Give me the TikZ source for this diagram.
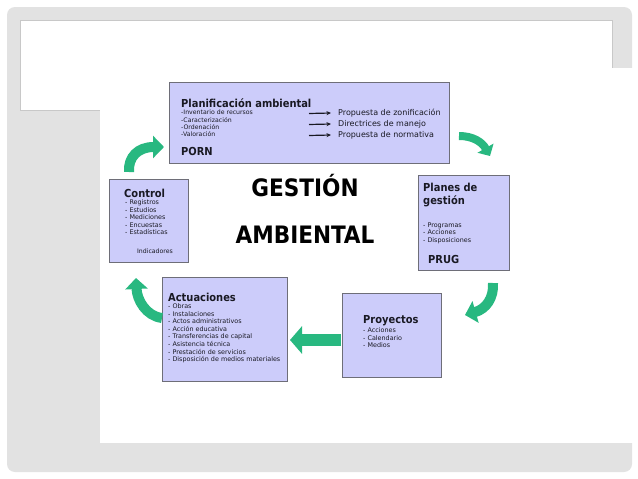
\documentclass[tikz,border=0pt]{standalone}
\usepackage{fontspec}
\setmainfont{DejaVu Sans}
\newfontfamily\hdfont{DejaVu Sans Condensed}
\usetikzlibrary{arrows.meta}
\definecolor{framegray}{RGB}{226,226,226}
\definecolor{lineg}{RGB}{200,200,200}
\definecolor{boxfill}{RGB}{204,204,250}
\definecolor{boxline}{RGB}{110,110,120}
\definecolor{arrowgreen}{RGB}{40,184,128}
\definecolor{txt}{RGB}{25,25,35}
\tikzset{
  box/.style={draw=boxline, fill=boxfill, line width=0.9pt},
  ttl/.style={anchor=west, inner sep=0, text=txt, font=\hdfont\bfseries\fontsize{11}{13}\selectfont},
  lst/.style={anchor=north west, inner sep=0, align=left, text=txt, font=\fontsize{6.4}{7.6}\selectfont},
  prop/.style={anchor=west, inner sep=0, text=txt, font=\fontsize{8}{9}\selectfont},
  big/.style={inner sep=0, text=black, font=\hdfont\bfseries\fontsize{24}{26}\selectfont},
  smallarr/.style={-{Stealth[length=4.5pt,width=4pt]}, line width=1.2pt, txt},
  garrow/.style={arrowgreen, line width=10pt, -{Triangle[length=11pt,width=22pt]}},
}
\begin{document}
\begin{tikzpicture}[x=1pt,y=-1pt]
\useasboundingbox (0,0) rectangle (638,479);
\fill[white] (0,0) rectangle (638,479);
% slide frame
\fill[framegray, rounded corners=8pt] (7,7) rectangle (632,472);
\draw[lineg, fill=white, line width=1pt] (20,20) rectangle (612,110);
\fill[white] (100,68) rectangle (638,443);

% boxes
\draw[box] (169,82) rectangle (449,163);
\draw[box] (109,179) rectangle (188,262);
\draw[box] (418,175) rectangle (509,270);
\draw[box] (162,277) rectangle (287,381);
\draw[box] (342,293) rectangle (441,377);

% Planificacion
\node[ttl] (plant) at (181,103) {Planificación ambiental};
\node[lst, font=\fontsize{6.2}{7.1}\selectfont] (planl) at (181,110) {-Inventario de recursos\\-Caracterización\\-Ordenación\\-Valoración};
\node[ttl] (porn) at (181,151) {PORN};
\node[prop] (p1) at (338,113) {Propuesta de zonificación};
\node[prop] (p2) at (338,124) {Directrices de manejo};
\node[prop] (p3) at (338,135) {Propuesta de normativa};
\coordinate (a1) at (309,113.5);
\coordinate (a2) at (309,124.5);
\coordinate (a3) at (309,135.5);
\draw[smallarr] (a1) -- ([xshift=-7pt]p1.west);
\draw[smallarr] (a2) -- ([xshift=-7pt]p2.west);
\draw[smallarr] (a3) -- ([xshift=-7pt]p3.west);

% Control
\node[ttl] (ctl) at (124,193) {Control};
\node[lst] (ctll) at (125,199.5) {- Registros\\- Estudios\\- Mediciones\\- Encuestas\\- Estadísticas};
\node[inner sep=0, text=txt, font=\fontsize{6.2}{7}\selectfont] (ind) at (155,251) {Indicadores};

% Planes de gestion
\node[ttl, anchor=north west, align=left, font=\hdfont\bfseries\fontsize{11}{13}\selectfont] (plg) at (423,183) {Planes de\\gestión};
\node[lst] (plgl) at (423,222.5) {- Programas\\- Acciones\\- Disposiciones};
\node[ttl] (prug) at (428,259) {PRUG};

% Actuaciones
\node[ttl] (act) at (168,297) {Actuaciones};
\node[lst] (actl) at (168,303.5) {- Obras\\- Instalaciones\\- Actos administrativos\\- Acción educativa\\- Transferencias de capital\\- Asistencia técnica\\- Prestación de servicios\\- Disposición de medios materiales};

% Proyectos
\node[ttl] (pro) at (363,321) {Proyectos};
\node[lst] (prol) at (363,327.5) {- Acciones\\- Calendario\\- Medios};

% center title
\node[big] (g1) at (305,186) {GESTIÓN};
\node[big] (g2) at (305,235) {AMBIENTAL};

% green cycle arrows
\coordinate (c1s) at (129,172);
\coordinate (c1e) at (164,147);
\coordinate (c2s) at (459,136);
\coordinate (c2e) at (490,156);
\coordinate (c3s) at (493,283);
\coordinate (c3e) at (465,315);
\coordinate (c4s) at (341,340);
\coordinate (c4e) at (290,340);
\coordinate (c5s) at (162,318);
\coordinate (c5e) at (136,278);
\draw[garrow] (c1s) .. controls (128,157) and (138,147) .. (c1e);
\draw[garrow, line width=8pt, -{Triangle[length=9pt,width=18pt]}] (c2s) .. controls (473,136) and (482,142) .. (c2e);
\draw[garrow] (c3s) .. controls (494,298) and (486,309) .. (c3e);
\draw[garrow, line width=12pt, -{Triangle[length=12pt,width=27pt]}] (c4s) -- (c4e);
\draw[garrow] (c5s) .. controls (146,316) and (137,300) .. (c5e);
\end{tikzpicture}
\end{document}
